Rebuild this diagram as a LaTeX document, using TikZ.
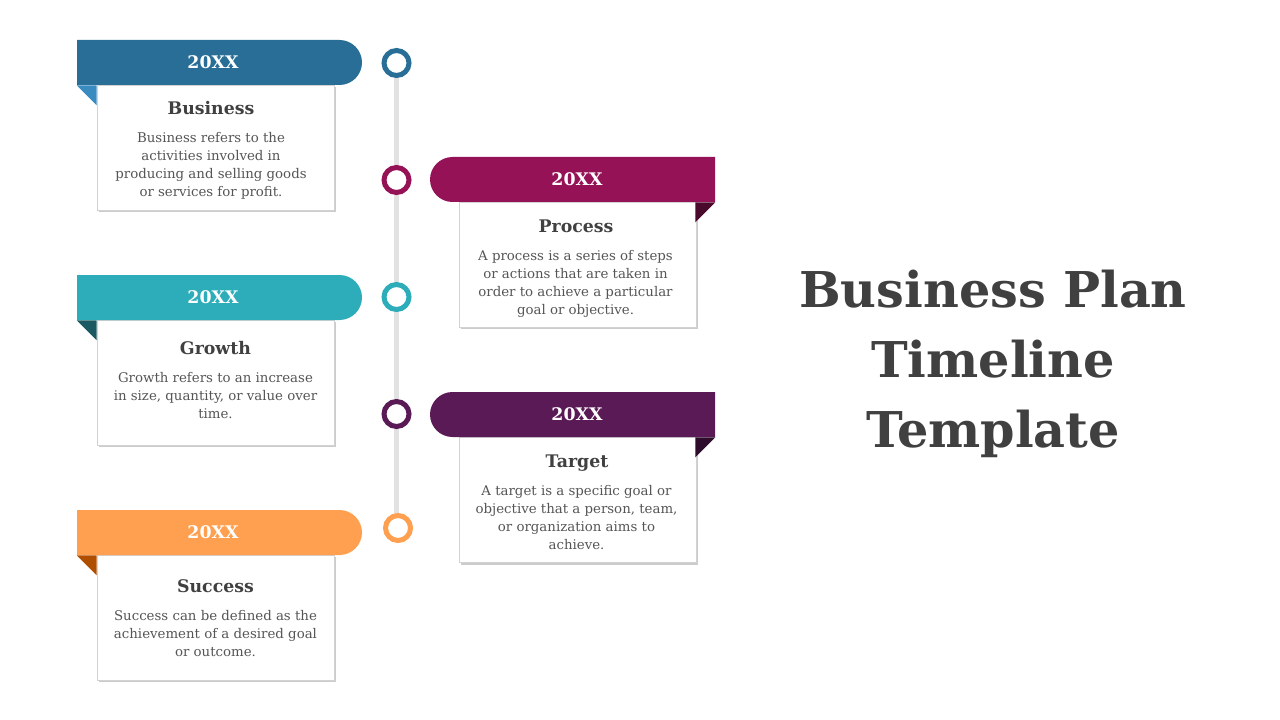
\documentclass[tikz,border=0pt]{standalone}
\usepackage{fontspec}
\setmainfont{DejaVu Serif}
\usepackage{xcolor}
\usetikzlibrary{shapes.misc,shadows,backgrounds}

\begin{document}
\begin{tikzpicture}[x=0.75pt,y=0.75pt,yscale=-1,xscale=1,
  card/.style={draw={rgb, 255:red, 210; green, 210; blue, 210}, fill=white, line width=0.5pt, minimum width=177.75pt, minimum height=93.75pt, inner sep=0pt, drop shadow={opacity=0.4, shadow xshift=1.5pt, shadow yshift=-1.5pt}},
  barL/.style={rounded rectangle, rounded rectangle west arc=none, minimum width=213.75pt, minimum height=33.75pt, inner sep=0pt},
  barR/.style={rounded rectangle, rounded rectangle east arc=none, minimum width=213.75pt, minimum height=33.75pt, inner sep=0pt},
  dot/.style={circle, fill=white, line width=3.75pt, minimum size=18.75pt, inner sep=0pt},
  year/.style={text=white, font=\bfseries\fontsize{13}{15}\selectfont, inner sep=0.75pt},
  heading/.style={anchor=base, text={rgb, 255:red, 64; green, 64; blue, 64}, font=\bfseries\fontsize{13}{15}\selectfont, inner sep=0.75pt},
  blurb/.style={anchor=north, align=center, text={rgb, 255:red, 85; green, 85; blue, 85}, font=\fontsize{10}{13.3}\selectfont, inner sep=0pt}
]
\useasboundingbox (0,0) rectangle (1280,720);

%Shape: Circle
\node [dot, draw={rgb, 255:red, 41; green, 110; blue, 150}] (dot1) at (396.5,63) {};
\node [dot, draw={rgb, 255:red, 150; green, 18; blue, 87}] (dot2) at (396.5,180) {};
\node [dot, draw={rgb, 255:red, 45; green, 173; blue, 185}] (dot3) at (396.5,297) {};
\node [dot, draw={rgb, 255:red, 90; green, 26; blue, 85}] (dot4) at (396.5,414) {};
\node [dot, draw={rgb, 255:red, 255; green, 160; blue, 80}] (dot5) at (398,528) {};
%Straight Lines
\begin{scope}[on background layer]
\draw [color={rgb, 255:red, 226; green, 226; blue, 226 }, line width=3.75pt] (dot1.center) -- (dot1.center |- dot5.center);
\end{scope}

%Shape: Rectangle
\node [card] (bizCard) at (215.5,147.5) {};
\node [card] (procCard) at (577.5,264.5) {};
\node [card] (growCard) at (215.5,382.5) {};
\node [card] (targCard) at (577.5,500) {};
\node [card] (succCard) at (215.5,617.5) {};

%Shape: Rounded Rectangle
\node [barL, fill={rgb, 255:red, 41; green, 110; blue, 150}] (bizBar) at (219.5,62.5) {};
\node [barR, fill={rgb, 255:red, 150; green, 18; blue, 87}] (procBar) at (572.5,179.5) {};
\node [barL, fill={rgb, 255:red, 45; green, 173; blue, 185}] (growBar) at (219.5,297.5) {};
\node [barR, fill={rgb, 255:red, 90; green, 26; blue, 85}] (targBar) at (572.5,414.5) {};
\node [barL, fill={rgb, 255:red, 255; green, 160; blue, 80}] (succBar) at (219.5,532.5) {};

%Shape: Right Triangle
\fill [color={rgb, 255:red, 58; green, 139; blue, 191}] (bizBar.south west) -- ++(20,0) -- ++(0,20) -- cycle;
\fill [color={rgb, 255:red, 74; green, 10; blue, 44}] (procBar.south east) -- ++(-20,0) -- ++(0,20) -- cycle;
\fill [color={rgb, 255:red, 27; green, 90; blue, 98}] (growBar.south west) -- ++(20,0) -- ++(0,20) -- cycle;
\fill [color={rgb, 255:red, 46; green, 13; blue, 44}] (targBar.south east) -- ++(-20,0) -- ++(0,20) -- cycle;
\fill [color={rgb, 255:red, 176; green, 78; blue, 0}] (succBar.south west) -- ++(20,0) -- ++(0,20) -- cycle;

% Text Node
\node [year] (bizYear) at (213,62.5) {20XX};
\node [year] (procYear) at (577,179.5) {20XX};
\node [year] (growYear) at (213,297.5) {20XX};
\node [year] (targYear) at (577,414.5) {20XX};
\node [year] (succYear) at (213,532.5) {20XX};

% Text Node
\node [heading] (bizHead) at (211,114.5) {Business};
\node [blurb] (bizText) at (211,132.5) {Business refers to the\\activities involved in\\producing and selling goods\\or services for profit.};
% Text Node
\node [heading] (procHead) at (576,232.5) {Process};
\node [blurb] (procText) at (575.5,250.5) {A process is a series of steps\\or actions that are taken in\\order to achieve a particular\\goal or objective.};
% Text Node
\node [heading] (growHead) at (215.5,354.5) {Growth};
\node [blurb] (growText) at (215.5,372.5) {Growth refers to an increase\\in size, quantity, or value over\\time.};
% Text Node
\node [heading] (targHead) at (577,467.5) {Target};
\node [blurb] (targText) at (576.5,485.5) {A target is a specific goal or\\objective that a person, team,\\or organization aims to\\achieve.};
% Text Node
\node [heading] (succHead) at (215.5,592.5) {Success};
\node [blurb] (succText) at (215.5,610.5) {Success can be defined as the\\achievement of a desired goal\\or outcome.};

% Text Node
\node [align=center, text={rgb, 255:red, 64; green, 64; blue, 64}, font=\bfseries\fontsize{37}{52.5}\selectfont, inner sep=0pt] (title) at (993,364) {Business Plan\\Timeline\\Template};

\end{tikzpicture}
\end{document}
